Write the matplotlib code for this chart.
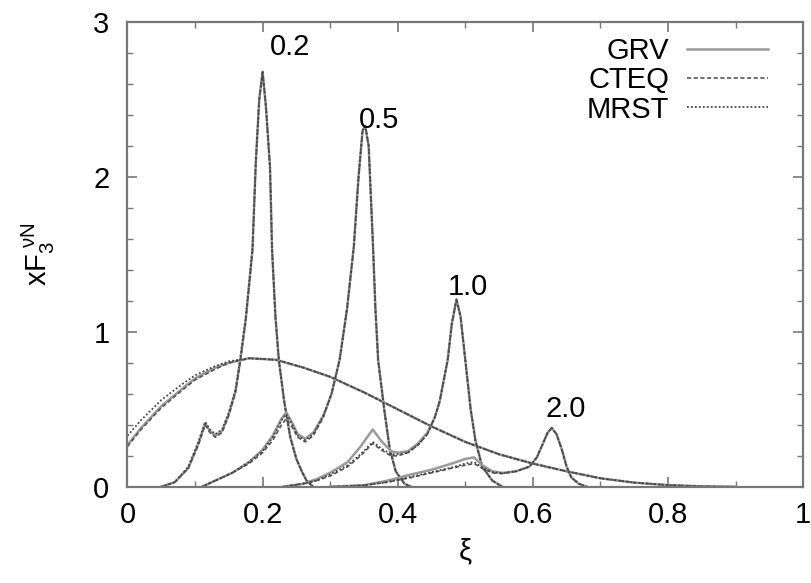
import matplotlib
matplotlib.use('Agg')
import matplotlib.pyplot as plt
from matplotlib.ticker import MultipleLocator

plt.rcParams['font.family'] = ['Liberation Sans', 'DejaVu Sans']
plt.rcParams['mathtext.fontset'] = 'custom'
plt.rcParams['mathtext.rm'] = 'Liberation Sans'
plt.rcParams['mathtext.it'] = 'Liberation Sans'

# broad (DIS) curve
xi_dis = [0.0, 0.02, 0.05, 0.08, 0.1, 0.13, 0.15, 0.18, 0.22, 0.26, 0.3, 0.35, 0.4, 0.45,
          0.5, 0.55, 0.6, 0.65, 0.7, 0.75, 0.8, 0.85, 0.9]
grv_dis = [0.27, 0.38, 0.52, 0.63, 0.70, 0.77, 0.80, 0.83, 0.82, 0.77, 0.71, 0.61, 0.50, 0.39,
           0.29, 0.21, 0.15, 0.10, 0.055, 0.027, 0.011, 0.003, 0.0]
cteq_dis = [0.26, 0.37, 0.51, 0.62, 0.69, 0.76, 0.80, 0.83, 0.82, 0.77, 0.71, 0.61, 0.50, 0.39,
            0.29, 0.21, 0.15, 0.10, 0.055, 0.027, 0.011, 0.003, 0.0]
mrst_dis = [0.33, 0.43, 0.56, 0.66, 0.72, 0.78, 0.81, 0.83, 0.82, 0.77, 0.71, 0.61, 0.50, 0.39,
            0.29, 0.21, 0.15, 0.10, 0.055, 0.027, 0.011, 0.003, 0.0]

# Q2 = 0.2
xi_02 = [0.05, 0.07, 0.09, 0.105, 0.115, 0.122, 0.13, 0.14, 0.15, 0.16, 0.167, 0.175, 0.185,
         0.19, 0.195, 0.2, 0.205, 0.211, 0.214, 0.219, 0.224, 0.232, 0.241, 0.25, 0.258, 0.265, 0.275]
grv_02 = [0.0, 0.03, 0.12, 0.28, 0.41, 0.36, 0.33, 0.36, 0.47, 0.62, 0.82, 1.08, 1.53,
          2.1, 2.5, 2.68, 2.45, 2.06, 1.53, 1.1, 0.82, 0.55, 0.32, 0.18, 0.1, 0.04, 0.0]
cteq_02 = [0.0, 0.03, 0.12, 0.27, 0.40, 0.35, 0.32, 0.35, 0.46, 0.61, 0.81, 1.07, 1.52,
           2.1, 2.5, 2.68, 2.45, 2.06, 1.53, 1.1, 0.82, 0.55, 0.32, 0.18, 0.1, 0.04, 0.0]
mrst_02 = [0.0, 0.03, 0.13, 0.29, 0.42, 0.37, 0.34, 0.37, 0.48, 0.63, 0.83, 1.09, 1.54,
           2.1, 2.5, 2.68, 2.45, 2.06, 1.53, 1.1, 0.82, 0.55, 0.32, 0.18, 0.1, 0.04, 0.0]

# Q2 = 0.5
xi_05 = [0.11, 0.13, 0.155, 0.18, 0.2, 0.215, 0.228, 0.235, 0.243, 0.252, 0.263, 0.275, 0.29,
         0.302, 0.314, 0.325, 0.335, 0.342, 0.348, 0.352, 0.357, 0.363, 0.367, 0.371, 0.38,
         0.388, 0.397, 0.41, 0.42]
grv_05 = [0.0, 0.04, 0.09, 0.16, 0.24, 0.33, 0.44, 0.48, 0.42, 0.34, 0.31, 0.35, 0.46,
          0.6, 0.82, 1.15, 1.55, 2.0, 2.3, 2.33, 2.2, 1.6, 1.15, 0.82, 0.5,
          0.25, 0.1, 0.02, 0.0]
cteq_05 = [0.0, 0.04, 0.09, 0.15, 0.22, 0.30, 0.40, 0.44, 0.39, 0.32, 0.29, 0.33, 0.45,
           0.6, 0.82, 1.15, 1.55, 2.0, 2.3, 2.33, 2.2, 1.6, 1.15, 0.82, 0.5,
           0.25, 0.1, 0.02, 0.0]
mrst_05 = [0.0, 0.04, 0.09, 0.16, 0.23, 0.32, 0.43, 0.47, 0.41, 0.33, 0.30, 0.34, 0.46,
           0.6, 0.82, 1.15, 1.55, 2.0, 2.3, 2.33, 2.2, 1.6, 1.15, 0.82, 0.5,
           0.25, 0.1, 0.02, 0.0]

# Q2 = 1.0
xi_10 = [0.23, 0.26, 0.28, 0.3, 0.326, 0.345, 0.363, 0.375, 0.39, 0.4, 0.415, 0.43, 0.444,
         0.455, 0.462, 0.474, 0.48, 0.487, 0.493, 0.5, 0.508, 0.515, 0.525, 0.54, 0.555]
grv_10 = [0.0, 0.02, 0.05, 0.09, 0.16, 0.26, 0.37, 0.30, 0.23, 0.22, 0.23, 0.28, 0.35,
          0.45, 0.55, 0.82, 1.05, 1.21, 1.1, 0.82, 0.5, 0.3, 0.13, 0.04, 0.0]
cteq_10 = [0.0, 0.02, 0.04, 0.07, 0.13, 0.2, 0.28, 0.24, 0.2, 0.2, 0.22, 0.27, 0.34,
           0.45, 0.55, 0.82, 1.05, 1.21, 1.1, 0.82, 0.5, 0.3, 0.13, 0.04, 0.0]
mrst_10 = [0.0, 0.02, 0.04, 0.08, 0.14, 0.21, 0.29, 0.25, 0.21, 0.21, 0.22, 0.27, 0.34,
           0.45, 0.55, 0.82, 1.05, 1.21, 1.1, 0.82, 0.5, 0.3, 0.13, 0.04, 0.0]

# Q2 = 2.0
xi_20 = [0.3, 0.35, 0.385, 0.42, 0.45, 0.48, 0.5, 0.513, 0.525, 0.54, 0.555, 0.575, 0.595,
         0.606, 0.615, 0.622, 0.628, 0.635, 0.643, 0.65, 0.657, 0.668, 0.68]
grv_20 = [0.0, 0.01, 0.04, 0.08, 0.11, 0.15, 0.18, 0.19, 0.14, 0.1, 0.09, 0.1, 0.13,
          0.19, 0.28, 0.35, 0.38, 0.34, 0.24, 0.13, 0.06, 0.02, 0.0]
cteq_20 = [0.0, 0.01, 0.03, 0.06, 0.09, 0.12, 0.14, 0.15, 0.12, 0.09, 0.085, 0.1, 0.13,
           0.19, 0.28, 0.35, 0.38, 0.34, 0.24, 0.13, 0.06, 0.02, 0.0]
mrst_20 = [0.0, 0.01, 0.03, 0.065, 0.095, 0.125, 0.15, 0.16, 0.125, 0.095, 0.088, 0.1, 0.13,
           0.19, 0.28, 0.35, 0.38, 0.34, 0.24, 0.13, 0.06, 0.02, 0.0]

q2_labels = ['0.2', '0.5', '1.0', '2.0']
label_xi = [0.24, 0.373, 0.504, 0.649]
label_y = [2.84, 2.37, 1.29, 0.50]

curves = [
    (xi_dis, grv_dis, cteq_dis, mrst_dis),
    (xi_02, grv_02, cteq_02, mrst_02),
    (xi_05, grv_05, cteq_05, mrst_05),
    (xi_10, grv_10, cteq_10, mrst_10),
    (xi_20, grv_20, cteq_20, mrst_20),
]

fs = 21

fig = plt.figure(figsize=(8.12, 5.83), dpi=100)
ax = fig.add_axes([0.157, 0.165, 0.832, 0.797])

for i, (xi, grv, cteq, mrst) in enumerate(curves):
    if i == 0:
        kw = [dict(label='GRV'), dict(label='CTEQ'), dict(label='MRST')]
    else:
        kw = [{}, {}, {}]
    ax.plot(xi, grv, color='#9a9a9a', lw=1.8, **kw[0])
    ax.plot(xi, cteq, color='#555555', lw=1.2, dashes=(2.5, 1.5), **kw[1])
    ax.plot(xi, mrst, color='#444444', lw=1.3, dashes=(1, 1.2), **kw[2])

for lab, lx, ly in zip(q2_labels, label_xi, label_y):
    ax.text(lx, ly, lab, fontsize=fs, ha='center', va='center')

ax.set_xlim(0, 1)
ax.set_ylim(0, 3)
ax.xaxis.set_minor_locator(MultipleLocator(0.1))
ax.yaxis.set_minor_locator(MultipleLocator(0.2))
ax.set_xticks([0, 0.2, 0.4, 0.6, 0.8, 1.0])
ax.set_xticklabels(['0', '0.2', '0.4', '0.6', '0.8', '1'])
ax.set_yticks([0, 1, 2, 3])
ax.set_yticklabels(['0', '1', '2', '3'])
ax.tick_params(which='both', direction='in', top=True, right=True, color='#777777',
               labelsize=fs)
ax.tick_params(axis='x', pad=10)
ax.tick_params(axis='y', pad=13)
ax.tick_params(which='major', length=7, width=1.2)
ax.tick_params(which='minor', length=4, width=1)
for s in ax.spines.values():
    s.set_color('#777777')
    s.set_linewidth(1.6)

ax.set_xlabel('ξ', fontsize=fs, labelpad=6)
ax.set_ylabel(r'xF$_{3}^{\ \nu N}$', fontsize=fs, labelpad=26)

leg = ax.legend(loc='upper right', bbox_to_anchor=(0.97, 1.0), frameon=False,
                markerfirst=False, fontsize=fs, handlelength=2.8, labelspacing=0.05,
                borderpad=0, handletextpad=0.6)

fig.savefig('out.png', dpi=100)
